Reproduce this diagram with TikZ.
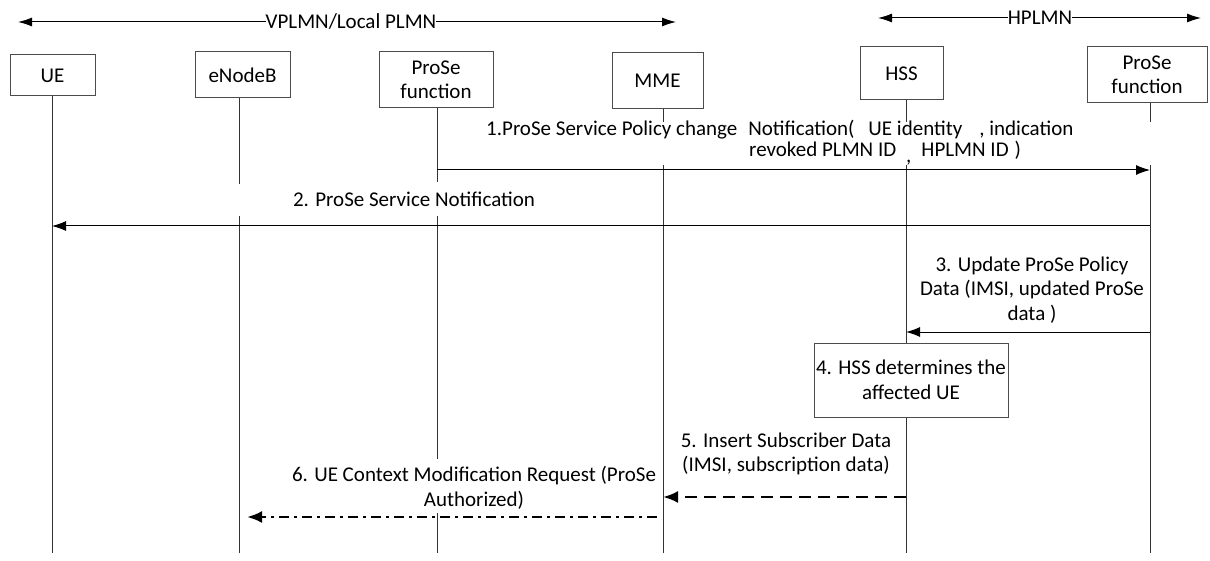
\documentclass[tikz,border=0pt]{standalone}
\usepackage{fontspec}
\setmainfont{Carlito}
\usetikzlibrary{arrows.meta}
\tikzset{
  entity/.style={draw=black!70,line width=1pt,align=center,inner sep=1pt},
  life/.style={draw=black!80,line width=1pt},
  msg/.style={-{Latex[length=14pt,width=10pt]},line width=1pt},
  msgdash/.style={-{Latex[length=15pt,width=12pt]},line width=2.6pt,dash pattern=on 12pt off 7pt},
  msgdot/.style={-{Latex[length=15pt,width=12pt]},line width=2.6pt,dash pattern=on 10pt off 5pt on 3pt off 5pt},
  span/.style={{Latex[length=14pt,width=9pt]}-{Latex[length=14pt,width=9pt]},line width=1pt},
  lbl/.style={align=center,inner sep=1pt}
}
\begin{document}
\begin{tikzpicture}[x=1pt,y=-1pt,font=\fontsize{21}{24.5}\selectfont]
\useasboundingbox (0,0) rectangle (1210,561);
\def\bot{553}
% network spans
\coordinate (v-l) at (18,22);
\coordinate (v-r) at (676,22);
\node[fill=white,inner sep=0pt] (vplmn) at (351,22) {VPLMN/Local PLMN};
\draw[span] (v-l) -- (v-r);
\node[fill=white,inner sep=0pt] at (vplmn) {VPLMN/Local PLMN};
\coordinate (h-l) at (878,18);
\coordinate (h-r) at (1201,18);
\draw[span] (h-l) -- (h-r);
\node[fill=white,inner sep=0pt] (hplmn) at (1040,18) {HPLMN};
% entities
\node[entity,minimum width=85pt,minimum height=41pt] (ue) at (52.5,75.5) {UE};
\node[entity,minimum width=95pt,minimum height=46pt] (enb) at (242.5,75) {eNodeB};
\node[entity,minimum width=114pt,minimum height=56pt] (pf) at (436,80) {ProSe\\function};
\node[entity,minimum width=91pt,minimum height=56pt] (mme) at (657.5,81) {MME};
\node[entity,minimum width=83pt,minimum height=53pt] (hss) at (901.5,73.5) {HSS};
\node[entity,minimum width=120pt,minimum height=56pt] (pfh) at (1147,75) {ProSe\\function};
% lifelines
\coordinate (ue-end) at (52,\bot);
\coordinate (enb-end) at (239,\bot);
\coordinate (pf-end) at (437,\bot);
\coordinate (mme-end) at (663,\bot);
\coordinate (hss-end) at (906,\bot);
\coordinate (pfh-end) at (1150,\bot);
\draw[life] (ue.south -| ue-end) -- (ue-end);
\draw[life] (enb.south -| enb-end) -- ++(0,86) ++(0,32) -- (enb-end);
\draw[life] (pf.south -| pf-end) -- ++(0,74) ++(0,34) -- ++(0,242) ++(0,54) -- (pf-end);
\draw[life] (mme.south -| mme-end) -- ++(0,13) ++(0,43) -- (mme-end);
\draw[life] (hss.south -| hss-end) -- ++(0,22) ++(0,43) -- (hss-end);
\draw[life] (pfh.south -| pfh-end) -- ++(0,19) ++(0,43) -- (pfh-end);
% messages
\coordinate (m1) at (0,170);
\coordinate (m2) at (0,226);
\coordinate (m3) at (0,332);
\coordinate (m5) at (0,497);
\coordinate (m6) at (0,517);
\node[lbl,anchor=west] (m1a) at (485,130) {1.ProSe Service Policy change\hspace{11pt}Notification(\hspace{14pt}UE identity\hspace{17pt}, indication};
\node[lbl,anchor=west] (m1b) at (748,153) {revoked PLMN ID\hspace{10pt}\raisebox{-6pt}{,}\hspace{10pt}HPLMN ID\hspace{6pt})};
\draw[msg] (pf-end |- m1) -- (pfh-end |- m1);
\node[lbl] (m2l) at (414,199) {2. ProSe Service Notification};
\draw[msg] (pfh-end |- m2) -- (ue-end |- m2);
\node[lbl] (m3l) at (1032,290) {3. Update ProSe Policy\\Data (IMSI, updated ProSe\\data )};
\draw[msg] (pfh-end |- m3) -- (hss-end |- m3);
\node[entity,fill=white,minimum width=194pt,minimum height=74pt] (det) at (911,380) {4. HSS determines the\\affected UE};
\node[lbl] (m5l) at (786,454) {5. Insert Subscriber Data\\(IMSI, subscription data)};
\draw[msgdash] (hss-end |- m5) -- (mme-end |- m5);
\node[lbl] (m6l) at (474,488) {6. UE Context Modification Request (ProSe\\Authorized)};
\draw[msgdot,shorten <=6pt,shorten >=8pt] (mme-end |- m6) -- (enb-end |- m6);
\end{tikzpicture}
\end{document}
